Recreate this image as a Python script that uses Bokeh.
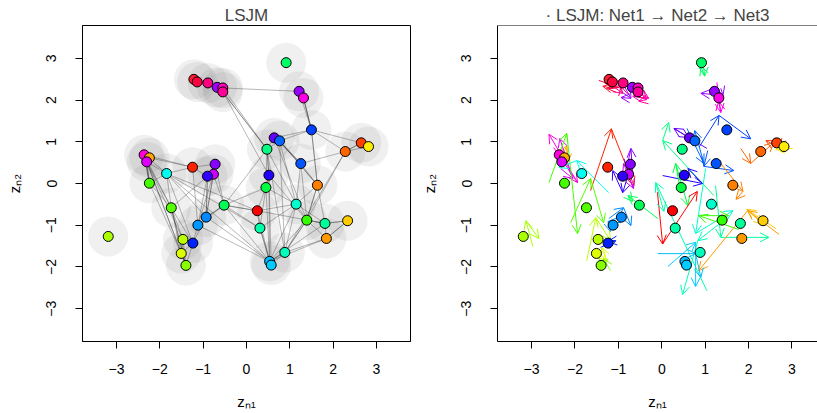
from bokeh.plotting import figure
from bokeh.layouts import row
from bokeh.models import Arrow, OpenHead, ColumnDataSource, Span, FixedTicker, Range1d
from bokeh.embed import file_html
from bokeh.resources import INLINE

# ---- data: LSJM latent positions ----
node_x = [-1.214, -1.138, -0.892, -0.678, -0.547, -0.547, 0.915, 1.214, 1.315, 1.499,
          0.639, 0.763, 0.471, 2.648, 2.816, 2.280, 1.253, 0.517, 0.448, 1.637,
          1.145, 0.248, 1.391, 1.811, 2.333, 0.310, 1.844, 0.885, 0.533, 0.570,
          -2.363, -2.241, -2.303, -1.844, -1.246, -0.724, -0.763, -0.901, -2.241, -3.191,
          -1.736, -0.517, -0.931, -1.122, -1.467, -1.237, -1.506, -1.398]
node_y = [2.495, 2.433, 2.409, 2.304, 2.289, 2.194, 2.895, 2.208, 2.050, 1.285,
          1.093, 1.022, 0.821, 0.974, 0.885, 0.766, 0.478, 0.199, -0.096, -0.041,
          -0.495, -0.653, -0.878, -0.957, -0.892, -1.069, -1.316, -1.651, -1.866, -1.955,
          0.687, 0.615, 0.519, 0.239, 0.390, 0.462, 0.222, 0.175, 0.007, -1.268,
          -0.581, -0.519, -0.806, -0.998, -1.340, -1.428, -1.675, -1.962]
node_col = ["#FF1A33", "#FF0040", "#FF0080", "#A000FF", "#FF00C0", "#FF0099", "#00FF66", "#9900FF", "#FF00E6", "#0040FF",
            "#6600FF", "#0066FF", "#00FF80", "#FF4000", "#FFEE00", "#FF6600", "#0055FF", "#2200FF", "#00FF40", "#FF8000",
            "#00FFCC", "#FF0000", "#33FF00", "#00FF99", "#FFCC00", "#00FFAA", "#FF9900", "#00FFBB", "#00BBFF", "#00CCFF",
            "#FF00DD", "#FFAA00", "#DD00FF", "#00FFEE", "#FF2200", "#8800FF", "#CC00FF", "#3300FF", "#44FF00", "#AAFF00",
            "#55FF00", "#00FF55", "#0088FF", "#0099FF", "#BBFF00", "#0022FF", "#DDFF00", "#88FF00"]

# ---- data: positions in the three networks ----
net1_x = [-1.29, -1.45, -1.31, -0.90, -0.71, -0.65, 0.94, 1.36, 1.27, 0.86,
          1.04, 0.58, 1.20, 2.86, 3.02, 1.82, 1.06, 0.02, 0.44, 1.36,
          1.01, -0.10, 1.77, 1.24, 2.63, 1.04, 2.70, 1.36, -0.09, 0.14,
          -2.49, -2.37, -2.33, -1.22, -1.64, -0.67, -0.83, -0.71, -2.60, -2.97,
          -2.10, -0.09, -1.22, -0.94, -1.73, -1.41, -1.45, -1.18]
net1_y = [2.57, 2.47, 2.47, 2.40, 2.30, 2.33, 3.00, 2.28, 2.42, 0.87,
          0.84, 1.32, -0.29, 1.03, 0.84, 0.84, 0.79, 0.19, -0.24, 0.48,
          0.36, -0.21, -1.10, -0.05, -1.08, -2.57, -1.22, -0.94, -1.68, -1.99,
          0.86, 0.43, 0.36, -0.22, -0.17, 0.19, 0.31, 0.43, 0.02, -1.51,
          -0.94, -0.84, -0.84, -0.94, -1.85, -1.53, -1.65, -2.09]
net2_x = [-1.13, -0.99, -0.90, -0.71, -0.30, -0.35, 0.99, 1.41, 1.36, 1.32,
          0.28, 0.97, 0.02, 2.70, 2.63, 2.05, 0.97, 0.94, 0.32, 1.87,
          0.78, 0.02, 0.85, 1.36, 1.96, -0.14, 1.98, 0.83, 0.78, 0.78,
          -1.94, -2.19, -2.05, -1.96, -1.16, -0.71, -0.65, -0.90, -2.19, -3.13,
          -1.64, -0.78, -0.88, -1.24, -1.52, -1.06, -1.27, -1.34]
net2_y = [2.28, 2.30, 2.16, 2.04, 2.04, 2.01, 2.57, 2.11, 1.70, 1.63,
          1.32, 0.48, 1.03, 0.86, 0.82, 0.48, 0.41, 0.00, 0.48, -0.19,
          -1.20, -1.45, -0.77, -1.29, -0.62, 0.02, -0.65, -1.37, -1.68, -1.41,
          0.02, 0.91, 0.12, 0.55, 1.31, 0.84, -0.12, -0.22, 1.20, -0.89,
          0.12, -0.29, -0.58, -0.91, -0.82, -1.37, -1.85, -1.80]
net3_x = [-1.36, -1.27, -0.94, -0.94, -0.67, -0.53, 0.90, 0.90, 1.31, 2.05,
          0.62, 0.76, 0.16, 2.40, 2.83, 2.58, 1.66, 0.60, 0.60, 1.71,
          1.64, 0.82, 1.54, 2.47, 2.33, 0.05, 0.85, 0.48, 0.90, 0.78,
          -2.60, -2.17, -2.35, -2.37, -0.64, -0.81, -0.88, -1.13, -1.94, -2.83,
          -1.34, -0.67, -0.71, -1.18, -1.18, -1.24, -1.38, -1.36]
net3_y = [2.33, 2.28, 2.33, 2.06, 2.09, 1.97, 2.81, 2.16, 1.97, 1.07,
          1.10, 1.27, 1.46, 1.03, 1.01, 0.98, 0.31, 0.36, -0.53, -0.38,
          -0.65, -0.19, -0.77, -1.29, -0.98, -0.67, -2.09, -2.66, -2.25, -2.47,
          1.18, 0.50, 1.08, 0.38, -0.05, 0.36, 0.48, 0.31, -1.20, -1.32,
          -0.94, -0.43, -1.01, -1.15, -1.37, -1.39, -1.53, -2.01]

# ---- data: network ties (node numbers, 1-based) ----
edge_from = [1, 2, 3, 4, 4, 5, 3, 4, 5, 6, 6, 5, 6, 8, 9, 9, 9, 8, 10, 10, 10, 10, 10, 10,
             14, 14, 14, 14, 14, 15, 16, 16, 16, 11, 11, 12, 12, 12, 12, 12, 11, 17, 17, 17,
             13, 13, 18, 18, 13, 13, 12, 11, 13, 12, 18, 18, 19, 19, 19, 19, 18,
             20, 20, 20, 20, 21, 21, 21, 21, 21, 21, 22, 22, 22,
             23, 23, 23, 23, 23, 23, 24, 24, 25, 25, 24, 27, 27, 28, 28, 28, 24, 26, 26,
             31, 31, 32, 31, 33, 32, 31, 34, 31, 31, 33, 33, 34, 39, 34, 33, 31, 35, 35, 36, 37, 37, 36,
             38, 38, 38, 37, 36, 37, 38, 43, 43, 42, 42, 42, 44, 43, 41, 41, 41, 41, 41, 45, 45, 45,
             46, 47, 47, 46, 45, 33, 31, 39, 33, 34, 34, 35, 36, 37,
             42, 42, 42, 42, 42, 42, 34, 34, 44, 43, 34]
edge_to = [2, 3, 4, 5, 5, 6, 5, 6, 8, 13, 13, 13, 18, 9, 10, 10, 10, 10, 12, 16, 14, 20, 20, 11,
           15, 15, 15, 16, 16, 16, 17, 23, 28, 12, 13, 13, 17, 17, 20, 20, 17, 20, 21, 23,
           18, 18, 19, 19, 19, 21, 21, 23, 28, 28, 29, 30, 22, 21, 26, 29, 23,
           23, 23, 24, 21, 22, 23, 24, 26, 28, 29, 24, 26, 29,
           24, 24, 28, 28, 29, 27, 25, 25, 27, 27, 27, 28, 29, 29, 29, 30, 29, 29, 30,
           32, 33, 33, 34, 34, 35, 35, 35, 39, 39, 39, 39, 39, 41, 41, 41, 41, 38, 36, 37, 38, 38, 38,
           41, 43, 43, 43, 43, 44, 44, 44, 44, 43, 43, 44, 46, 46, 45, 47, 48, 48, 46, 46, 47, 47,
           47, 48, 48, 48, 48, 45, 47, 47, 48, 46, 43, 44, 42, 42,
           13, 19, 22, 22, 26, 29, 22, 29, 29, 29, 26]

ticks = [-3, -2, -1, 0, 1, 2, 3]
title_left = "LSJM"
title_right = "\u00b7 LSJM: Net1 \u2192 Net2 \u2192 Net3"
xlab = "z\u2099\u2081"
ylab = "z\u2099\u2082"

FONT = "Liberation Sans"
LIM = 3.785


def style(p):
    p.toolbar_location = None
    p.grid.visible = False
    p.background_fill_color = "white"
    p.border_fill_color = "white"
    p.title.text_font = FONT
    p.title.text_font_size = "17px"
    p.title.text_font_style = "normal"
    p.title.align = "center"
    p.title.standoff = 2
    p.xaxis.ticker = FixedTicker(ticks=ticks)
    p.yaxis.ticker = FixedTicker(ticks=ticks)
    for ax in p.xaxis + p.yaxis:
        ax.major_tick_out = 7
        ax.major_tick_in = 0
        ax.minor_tick_line_color = None
        ax.major_tick_line_color = "black"
        ax.axis_line_color = "black"
        ax.major_label_text_font = FONT
        ax.major_label_text_font_size = "14px"
        ax.major_label_text_color = "black"
        ax.axis_label_text_font = FONT
        ax.axis_label_text_font_size = "15px"
        ax.axis_label_text_font_style = "normal"
        ax.axis_label_text_color = "black"
    p.xaxis.major_label_standoff = 15
    p.xaxis.axis_label_standoff = 16
    p.yaxis.major_label_standoff = 19
    p.yaxis.axis_label_standoff = 21
    p.yaxis.major_label_orientation = "vertical"
    p.xaxis.axis_label = xlab
    p.yaxis.axis_label = ylab


# ---------------- left panel ----------------
left = figure(width=416, height=413, output_backend="svg", toolbar_location=None,
              x_range=Range1d(-LIM, LIM), y_range=Range1d(-LIM, LIM),
              min_border_left=82, min_border_right=6, min_border_top=25, min_border_bottom=72,
              title=title_left)
style(left)
left.outline_line_color = "black"
left.outline_line_width = 1

left.scatter(node_x, node_y, size=40, marker="circle", fill_color="#808080",
             fill_alpha=0.12, line_color=None)

ex0 = [node_x[a - 1] for a in edge_from]
ey0 = [node_y[a - 1] for a in edge_from]
ex1 = [node_x[b - 1] for b in edge_to]
ey1 = [node_y[b - 1] for b in edge_to]
left.segment(ex0, ey0, ex1, ey1, line_color="#303030", line_alpha=0.38, line_width=0.9)

left.scatter(node_x, node_y, size=10, marker="circle", fill_color=node_col,
             line_color="black", line_width=1)

# ---------------- right panel ----------------
right = figure(width=401, height=413, output_backend="svg", toolbar_location=None,
               x_range=Range1d(-LIM, 3.588), y_range=Range1d(-LIM, LIM),
               min_border_left=81, min_border_right=0, min_border_top=25, min_border_bottom=72,
               title=title_right)
style(right)
right.title.offset = 8
right.outline_line_color = None
right.add_layout(Span(location=LIM, dimension="width", line_color="black", line_width=1))

for i in range(len(node_x)):
    src = ColumnDataSource(dict(x0=[net1_x[i], net2_x[i]], y0=[net1_y[i], net2_y[i]],
                                x1=[net2_x[i], net3_x[i]], y1=[net2_y[i], net3_y[i]]))
    arr = Arrow(source=src, x_start="x0", y_start="y0", x_end="x1", y_end="y1",
                line_color=node_col[i], line_width=1,
                end=OpenHead(size=9, line_color=node_col[i], line_width=1),
                level="underlay")
    right.add_layout(arr)

right.scatter(node_x, node_y, size=10, marker="circle", fill_color=node_col,
              line_color="black", line_width=1)

layout = row(left, right)
open("out.html", "w").write(file_html(layout, INLINE))
